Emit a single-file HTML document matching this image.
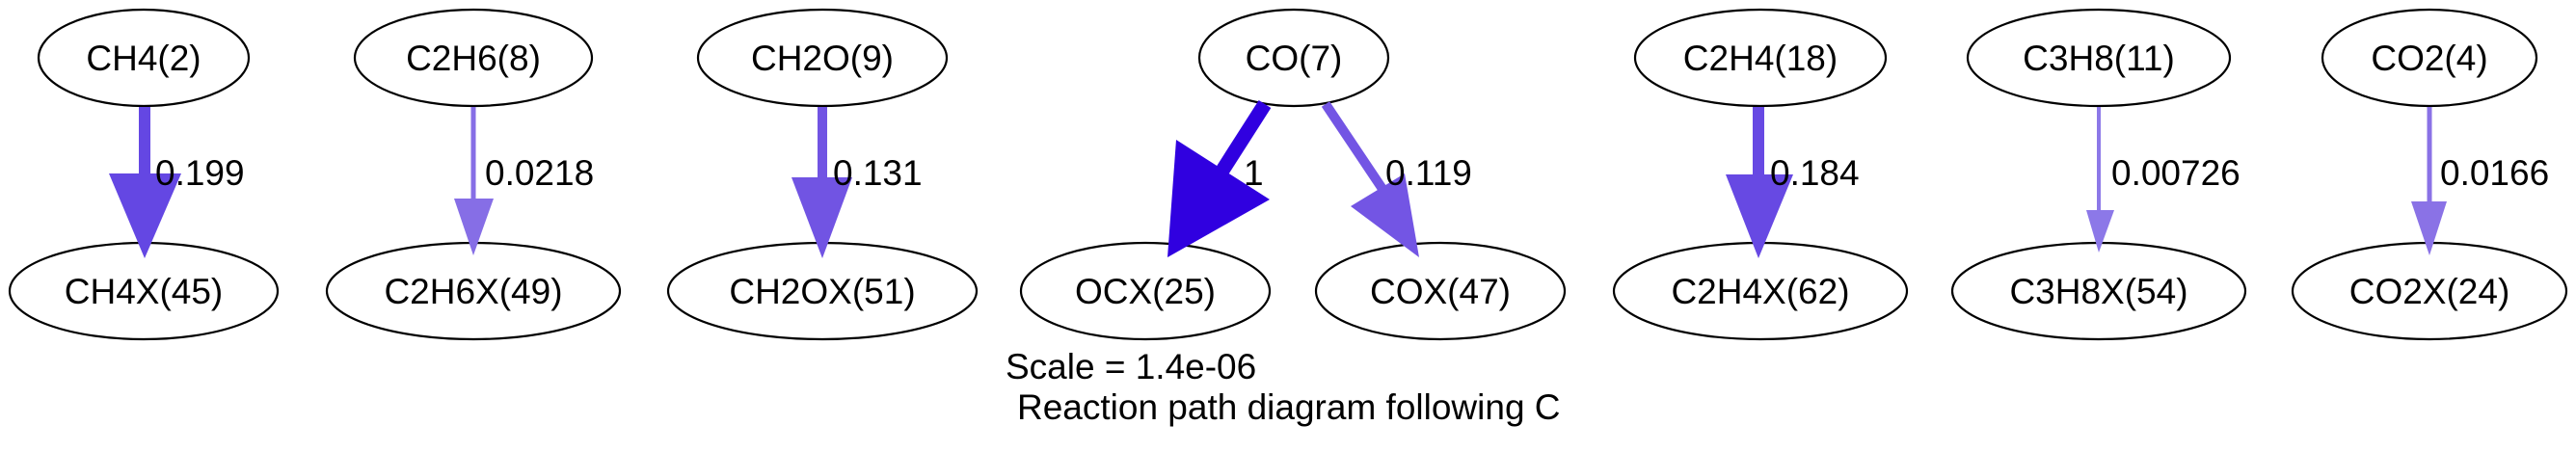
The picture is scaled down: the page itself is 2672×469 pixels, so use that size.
<!DOCTYPE html>
<html><head><meta charset="utf-8"><style>
html,body{margin:0;padding:0;background:#fff;width:2672px;height:469px;overflow:hidden}
svg text{font-family:"Liberation Sans",Arial,sans-serif;font-size:37px;fill:#000}
</style></head><body>
<svg width="2672" height="469" viewBox="0 0 2672 469" xmlns="http://www.w3.org/2000/svg">
<g fill="none" stroke="#000" stroke-width="2.2">
<ellipse cx="149" cy="60" rx="109" ry="50"/>
<ellipse cx="149" cy="302" rx="139" ry="50"/>
<ellipse cx="491" cy="60" rx="123" ry="50"/>
<ellipse cx="491" cy="302" rx="152" ry="50"/>
<ellipse cx="853" cy="60" rx="129" ry="50"/>
<ellipse cx="853" cy="302" rx="160" ry="50"/>
<ellipse cx="1342" cy="60" rx="98" ry="50"/>
<ellipse cx="1188" cy="302" rx="129" ry="50"/>
<ellipse cx="1494" cy="302" rx="129" ry="50"/>
<ellipse cx="1826" cy="60" rx="130" ry="50"/>
<ellipse cx="1826" cy="302" rx="152" ry="50"/>
<ellipse cx="2177" cy="60" rx="136" ry="50"/>
<ellipse cx="2177" cy="302" rx="152" ry="50"/>
<ellipse cx="2520" cy="60" rx="111" ry="50"/>
<ellipse cx="2520" cy="302" rx="142" ry="50"/>
</g>
<line x1="150" y1="111" x2="150" y2="182" stroke="#6447e3" stroke-width="12"/>
<polygon points="113,180 188,180 150,268" fill="#6447e3"/>
<line x1="491" y1="111" x2="491" y2="208" stroke="#866ee6" stroke-width="5"/>
<polygon points="471,206 512,206 491,265" fill="#866ee6"/>
<line x1="853" y1="111" x2="853" y2="186" stroke="#7154e3" stroke-width="10"/>
<polygon points="821,184 884,184 853,268" fill="#7154e3"/>
<line x1="1312" y1="108" x2="1266" y2="180" stroke="#3000e0" stroke-width="15"/>
<polygon points="1220,145 1317,207 1211,267" fill="#3000e0"/>
<line x1="1375" y1="108" x2="1438" y2="202" stroke="#7355e4" stroke-width="10"/>
<polygon points="1401,214 1457,180 1472,267" fill="#7355e4"/>
<line x1="1824" y1="111" x2="1824" y2="183" stroke="#6749e3" stroke-width="12"/>
<polygon points="1790,181 1860,181 1824,268" fill="#6749e3"/>
<line x1="2177" y1="111" x2="2177" y2="220" stroke="#8c78e8" stroke-width="4"/>
<polygon points="2164,218 2193,218 2177,262" fill="#8c78e8"/>
<line x1="2520" y1="111" x2="2520" y2="211" stroke="#8a72e6" stroke-width="5"/>
<polygon points="2501,209 2538,209 2520,265" fill="#8a72e6"/>
<g text-anchor="middle">
<text x="149" y="73">CH4(2)</text>
<text x="149" y="315">CH4X(45)</text>
<text x="491" y="73">C2H6(8)</text>
<text x="491" y="315">C2H6X(49)</text>
<text x="853" y="73">CH2O(9)</text>
<text x="853" y="315">CH2OX(51)</text>
<text x="1342" y="73">CO(7)</text>
<text x="1188" y="315">OCX(25)</text>
<text x="1494" y="315">COX(47)</text>
<text x="1826" y="73">C2H4(18)</text>
<text x="1826" y="315">C2H4X(62)</text>
<text x="2177" y="73">C3H8(11)</text>
<text x="2177" y="315">C3H8X(54)</text>
<text x="2520" y="73">CO2(4)</text>
<text x="2520" y="315">CO2X(24)</text>
</g>
<text x="161" y="192">0.199</text>
<text x="503" y="192">0.0218</text>
<text x="864" y="192">0.131</text>
<text x="1290" y="192">1</text>
<text x="1437" y="192">0.119</text>
<text x="1836" y="192">0.184</text>
<text x="2190" y="192">0.00726</text>
<text x="2531" y="192">0.0166</text>
<text x="1043" y="393">Scale = 1.4e-06</text>
<text x="1055" y="435">Reaction path diagram following C</text>
</svg>
</body></html>
